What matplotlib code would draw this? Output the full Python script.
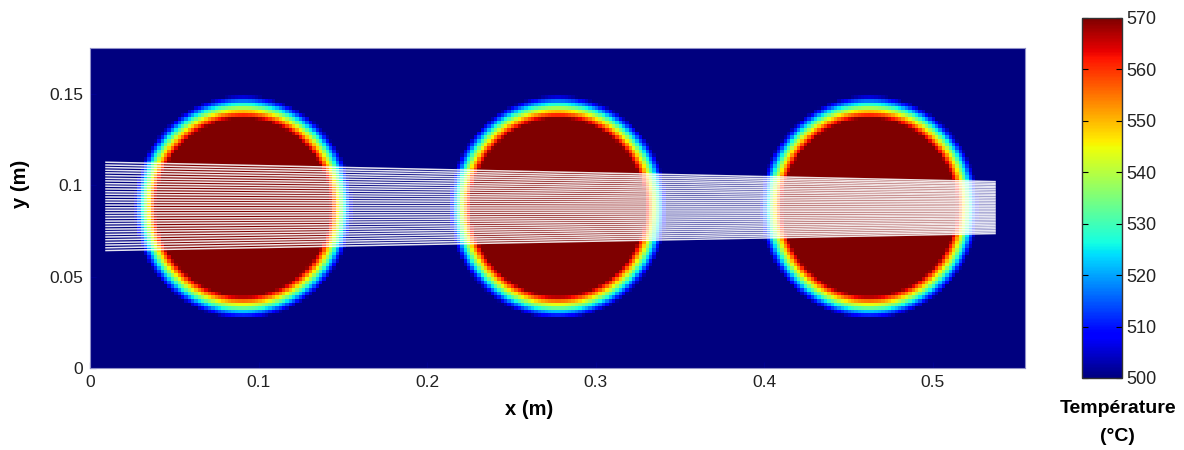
import numpy as np
import matplotlib.pyplot as plt

plt.rcParams['font.family'] = ['Liberation Sans', 'DejaVu Sans']

# hot cylinders (m) and temperatures (degC)
cx = [0.091, 0.278, 0.463]
cy = [0.0885, 0.0885, 0.0885]
rx_out, ry_out = 0.065, 0.0615
ring = 0.013
t_hot = 570
t_cold = 500

# ray endpoints (m)
x_start = 0.0095
x_end = 0.537
y_left = [0.1126, 0.1111, 0.1097, 0.1082, 0.1068, 0.1053, 0.1038, 0.1024, 0.1009,
          0.0995, 0.0980, 0.0965, 0.0951, 0.0936, 0.0921, 0.0907, 0.0892, 0.0877,
          0.0863, 0.0848, 0.0834, 0.0819, 0.0804, 0.0790, 0.0775, 0.0760, 0.0746,
          0.0731, 0.0717, 0.0702, 0.0687, 0.0673, 0.0658, 0.0643]
y_right = [0.1020, 0.1011, 0.1003, 0.0994, 0.0986, 0.0977, 0.0968, 0.0960, 0.0951,
           0.0943, 0.0934, 0.0925, 0.0917, 0.0908, 0.0900, 0.0891, 0.0882, 0.0874,
           0.0865, 0.0857, 0.0848, 0.0839, 0.0831, 0.0822, 0.0814, 0.0805, 0.0796,
           0.0788, 0.0779, 0.0771, 0.0762, 0.0753, 0.0745, 0.0736]

xmax = 0.555
ymax = 0.175
cb_ticks = [500, 510, 520, 530, 540, 550, 560, 570]

# temperature field on a coarse grid
gx = np.arange(0, xmax, 0.002) + 0.001
gy = np.arange(0, ymax, 0.002) + 0.001
X, Y = np.meshgrid(gx, gy)
T = np.full(X.shape, float(t_cold))
for x0, y0 in zip(cx, cy):
    # distance inside the ellipse edge, roughly in metres
    rho = np.hypot((X - x0) / rx_out, (Y - y0) / ry_out)
    depth = (1 - rho) * np.sqrt(rx_out * ry_out)
    frac = np.clip(depth / ring, 0, 1)
    T = np.maximum(T, t_cold + frac * (t_hot - t_cold))

fig = plt.figure(figsize=(11.84, 4.5), dpi=100)
ax = fig.add_axes([0.076, 0.182, 0.79, 0.711])
im = ax.imshow(T, origin="lower", extent=[0, xmax, 0, ymax], cmap="jet",
               vmin=t_cold, vmax=t_hot, aspect="auto", interpolation="nearest")

for yl, yr in zip(y_left, y_right):
    ax.plot([x_start, x_end], [yl, yr], color="white", lw=1.1, alpha=0.9)

ax.set_xlim(0, xmax)
ax.set_ylim(0, ymax)
ax.set_xticks([0, 0.1, 0.2, 0.3, 0.4, 0.5])
ax.set_xticklabels(["0", "0.1", "0.2", "0.3", "0.4", "0.5"])
ax.set_yticks([0, 0.05, 0.1, 0.15])
ax.set_yticklabels(["0", "0.05", "0.1", "0.15"])
ax.tick_params(direction="in", length=4, labelsize=12.5, colors="#00008f",
               labelcolor="#222222", pad=5)
for s in ax.spines.values():
    s.set_color("#9090c8")
    s.set_linewidth(0.8)
ax.set_xlabel("x (m)", fontsize=14.5, fontweight="bold")
ax.xaxis.set_label_coords(0.47, -0.10)
ax.set_ylabel("y (m)", fontsize=14.5, fontweight="bold")
ax.yaxis.set_label_coords(-0.064, 0.575)

cax = fig.add_axes([0.914, 0.16, 0.034, 0.80])
cb = fig.colorbar(im, cax=cax, ticks=cb_ticks)
cb.ax.tick_params(direction="in", length=4, labelsize=13, left=True, right=True,
                  labelcolor="#222222", pad=3)
cb.outline.set_linewidth(1.0)
cb.outline.set_edgecolor("#333333")

fig.text(0.944, 0.093, "Température", ha="center", va="center",
         fontsize=14, fontweight="bold")
fig.text(0.944, 0.031, "(°C)", ha="center", va="center",
         fontsize=14, fontweight="bold")

plt.savefig("out.png", dpi=100)
plt.close(fig)
